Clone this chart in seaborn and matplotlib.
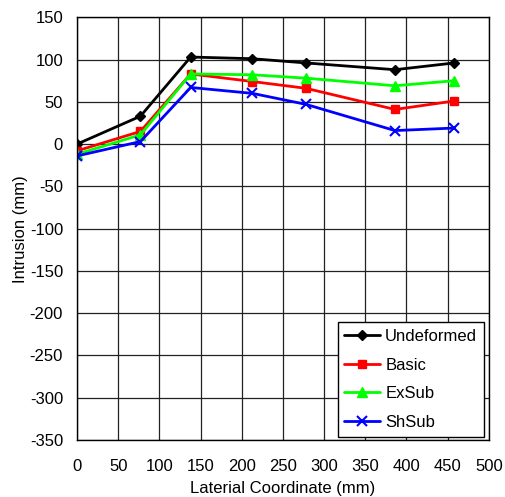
import matplotlib
matplotlib.use("Agg")
import matplotlib.pyplot as plt
import seaborn as sns
import pandas as pd

# Lateral positions of the measurement points (mm)
lateral = [0, 77, 138, 213, 278, 386, 458]

# Intrusion at each lateral position (mm)
undeformed = [0, 33, 103, 101, 96, 88, 96]
basic = [-8, 15, 83, 74, 66, 41, 51]
exsub = [-12, 11, 83, 82, 78, 69, 75]
shsub = [-14, 3, 67, 60, 47, 16, 19]

series_names = ["Undeformed", "Basic", "ExSub", "ShSub"]
series_values = [undeformed, basic, exsub, shsub]
colors = ["#000000", "#ff0000", "#00ff00", "#0000ff"]
markers = ["D", "s", "^", "x"]
marker_sizes = [5, 6, 7, 7]

x_ticks = list(range(0, 501, 50))
y_ticks = list(range(-350, 151, 50))

df = pd.concat(
    [pd.DataFrame({"Lateral": lateral, "Intrusion": v, "Case": n})
     for n, v in zip(series_names, series_values)],
    ignore_index=True,
)

sns.set_theme(style="white")
plt.rcParams["font.family"] = ["Liberation Sans", "DejaVu Sans"]
plt.rcParams["text.color"] = "black"

fig = plt.figure(figsize=(5.05, 4.97), dpi=100)
ax = fig.add_axes([0.1525, 0.1147, 0.8155, 0.8505])

for name, col, mk, ms in zip(series_names, colors, markers, marker_sizes):
    sub = df[df["Case"] == name]
    sns.lineplot(
        data=sub, x="Lateral", y="Intrusion", ax=ax, color=col,
        marker=mk, markersize=ms, linewidth=2, label=name,
        markeredgecolor=col, markeredgewidth=1.5 if mk == "x" else 1,
        sort=False,
    )

ax.set_xlim(0, 500)
ax.set_ylim(-350, 150)
ax.set_xticks(x_ticks)
ax.set_yticks(y_ticks)
ax.set_xticklabels([str(t) for t in x_ticks], fontsize=12)
ax.set_yticklabels([str(t) for t in y_ticks], fontsize=12)
ax.grid(True, color="#222222", linewidth=0.9)
ax.set_axisbelow(True)
ax.tick_params(axis="x", length=0, pad=14, colors="black")
ax.tick_params(axis="y", length=0, pad=10, colors="black")
for s in ax.spines.values():
    s.set_color("black")
    s.set_linewidth(1.0)

ax.set_xlabel("Laterial Coordinate (mm)", fontsize=12, color="black", labelpad=5)
ax.set_ylabel("Intrusion (mm)", fontsize=12, color="black", labelpad=1)

leg = ax.legend(
    loc="lower right", fontsize=12, frameon=True, fancybox=False,
    handlelength=2.15, handletextpad=0.3, borderpad=0.4,
    labelspacing=0.82, borderaxespad=0,
    bbox_to_anchor=(0.988, 0.008),
)
for t in leg.get_texts():
    t.set_color("black")
leg.get_frame().set_edgecolor("black")
leg.get_frame().set_linewidth(1.0)
leg.get_frame().set_alpha(1)

fig.savefig("out.png", dpi=100)
